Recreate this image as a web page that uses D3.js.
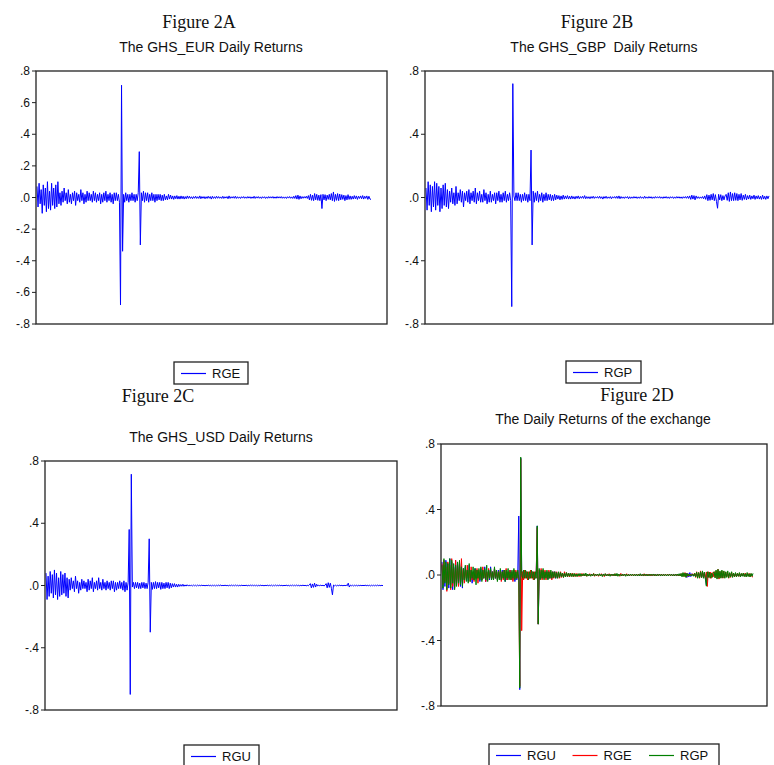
<html>
  <script src="https://d3js.org/d3.v7.min.js"></script>
  <body style="margin:0;background:#fff">
    <script>
      // daily returns (about one value per pixel of the plot)
      let rge = [
        0.07,-0.06,0.09,-0.04,0.05,-0.1,0.08,-0.05,0.06,-0.09,  0.1,-0.07,0.04,-0.08,0.09,-0.05,0.06,-0.07,0.08,-0.06,
        0.1,-0.04,0.03,-0.05,0.04,-0.03,0.06,-0.02,0.03,-0.04,  0.05,-0.03,0.02,-0.04,0.03,-0.02,0.04,-0.05,0.03,-0.02,
        0.02,-0.03,0.05,-0.02,0.03,-0.04,0.02,-0.03,0.04,-0.02,  0.03,-0.02,0.02,-0.03,0.04,-0.02,0.03,-0.03,0.02,-0.02,
        0.03,-0.04,0.02,-0.03,0.03,-0.02,0.04,-0.03,0.02,-0.02,  0.03,-0.03,0.02,-0.04,0.03,-0.02,0.03,-0.02,0.02,-0.03,
        -0.68,0.71,-0.34,0.02,-0.03,0.03,-0.02,0.02,-0.03,0.02,  -0.02,0.03,-0.02,0.02,-0.03,0.02,-0.02,0.03,0.29,-0.30,
        0.03,-0.02,0.04,-0.03,0.03,-0.02,0.03,-0.03,0.02,-0.02,  0.03,-0.02,0.02,-0.03,0.02,-0.02,0.02,-0.015,0.02,-0.02,
        0.015,-0.02,0.02,-0.015,0.01,-0.015,0.02,-0.01,0.015,-0.01,  0.01,-0.012,0.01,-0.008,0.012,-0.01,0.008,-0.01,0.01,-0.008,
        0.008,-0.01,0.006,-0.008,0.01,-0.006,0.008,-0.006,0.005,-0.008,  0.006,-0.005,0.008,-0.006,0.005,-0.006,0.01,-0.008,0.006,-0.005,
        0.006,-0.008,0.005,-0.006,0.008,-0.005,0.006,-0.01,0.008,-0.006,  0.005,-0.006,0.008,-0.005,0.006,-0.005,0.004,-0.006,0.008,-0.006,
        0.005,-0.004,0.006,-0.008,0.01,-0.006,0.005,-0.004,0.006,-0.005,  0.008,-0.006,0.005,-0.005,0.004,-0.006,0.005,-0.004,0.006,-0.005,
        0.004,-0.005,0.006,-0.004,0.005,-0.006,0.004,-0.005,0.008,-0.006,  0.005,-0.004,0.006,-0.005,0.004,-0.006,0.005,-0.004,0.005,-0.006,
        0.004,-0.005,0.006,-0.004,0.005,-0.004,0.006,-0.005,0.004,-0.005,  0.006,-0.004,0.005,-0.004,0.006,-0.005,0.004,-0.005,0.004,-0.006,
        0.005,-0.004,0.006,-0.005,0.004,-0.006,0.008,-0.006,0.012,-0.01,  0.015,-0.012,0.01,-0.008,0.006,-0.005,0.006,-0.004,0.008,-0.006,
        0.012,-0.015,0.02,-0.018,0.015,-0.02,0.025,-0.015,0.02,-0.018,  0.015,-0.02,0.018,-0.07,0.02,-0.015,0.018,-0.02,0.015,-0.012,
        0.02,-0.015,0.025,-0.02,0.035,-0.025,0.02,-0.018,0.025,-0.02,  0.022,-0.015,0.018,-0.012,0.015,-0.02,0.012,-0.015,0.018,-0.012,
        0.01,-0.012,0.008,-0.01,0.012,-0.008,0.01,-0.012,0.008,-0.006,  0.01,-0.008,0.012,-0.01,0.008,-0.006,0.01,-0.012,0.008,-0.01,
        -0.012
      ];
      let rgp = [
        0.06,-0.08,0.1,-0.05,0.08,-0.09,0.07,-0.06,0.1,-0.08,  0.09,-0.05,0.07,-0.09,0.06,-0.07,0.08,-0.05,0.09,-0.06,
        0.05,-0.07,0.04,-0.03,0.06,-0.04,0.03,-0.05,0.07,-0.04,  0.03,-0.02,0.05,-0.03,0.04,-0.06,0.03,-0.02,0.04,-0.03,
        0.05,-0.04,0.03,-0.02,0.04,-0.03,0.06,-0.04,0.03,-0.02,  0.04,-0.03,0.02,-0.03,0.05,-0.02,0.03,-0.04,0.02,-0.03,
        0.04,-0.03,0.02,-0.02,0.03,-0.04,0.03,-0.02,0.04,-0.03,  0.02,-0.03,0.03,-0.02,0.04,-0.03,0.02,-0.02,0.03,-0.02,
        -0.69,0.72,0.01,-0.02,0.03,-0.02,0.03,-0.02,0.02,-0.03,  0.02,-0.02,0.03,-0.02,0.02,-0.03,0.02,-0.02,0.30,-0.30,
        0.04,-0.03,0.03,-0.02,0.04,-0.03,0.02,-0.02,0.03,-0.03,  0.02,-0.02,0.03,-0.02,0.02,-0.015,0.02,-0.02,0.015,-0.02,
        0.02,-0.015,0.015,-0.01,0.012,-0.015,0.01,-0.012,0.015,-0.01,  0.01,-0.008,0.012,-0.01,0.008,-0.01,0.01,-0.008,0.006,-0.01,
        0.008,-0.006,0.01,-0.008,0.006,-0.005,0.008,-0.006,0.012,-0.008,  0.006,-0.006,0.005,-0.008,0.006,-0.005,0.008,-0.006,0.005,-0.004,
        0.006,-0.005,0.008,-0.006,0.005,-0.01,0.006,-0.005,0.008,-0.006,  0.004,-0.005,0.006,-0.008,0.005,-0.004,0.006,-0.005,0.008,-0.006,
        0.01,-0.008,0.006,-0.005,0.004,-0.006,0.005,-0.004,0.006,-0.008,  0.005,-0.006,0.004,-0.005,0.006,-0.004,0.005,-0.006,0.004,-0.005,
        0.006,-0.005,0.004,-0.006,0.008,-0.005,0.004,-0.005,0.006,-0.004,  0.005,-0.006,0.004,-0.005,0.006,-0.004,0.005,-0.004,0.006,-0.005,
        0.004,-0.006,0.005,-0.004,0.006,-0.005,0.004,-0.006,0.005,-0.004,  0.005,-0.006,0.004,-0.005,0.006,-0.004,0.005,-0.005,0.004,-0.006,
        0.005,-0.004,0.006,-0.005,0.008,-0.006,0.01,-0.012,0.015,-0.01,  0.012,-0.015,0.01,-0.006,0.005,-0.006,0.004,-0.005,0.006,-0.008,
        0.01,-0.012,0.018,-0.02,0.015,-0.018,0.02,-0.015,0.025,-0.02,  0.018,-0.025,-0.068,0.02,-0.015,0.018,-0.02,0.012,-0.015,0.01,
        0.02,-0.018,0.03,-0.025,0.035,-0.02,0.025,-0.02,0.03,-0.018,  0.025,-0.02,0.02,-0.015,0.025,-0.018,0.015,-0.012,0.02,-0.015,
        0.012,-0.01,0.015,-0.012,0.01,-0.008,0.015,-0.012,0.01,-0.008,  0.012,-0.01,0.008,-0.012,0.015,-0.01,0.008,-0.012,0.01,-0.008,
        0.01
      ];
      let rgu = [
        0.08,-0.09,0.06,-0.07,0.09,-0.05,0.07,-0.08,0.1,-0.06,  0.08,-0.09,0.05,-0.07,0.09,-0.06,0.07,-0.05,0.08,-0.07,
        0.05,-0.08,0.04,-0.03,0.05,-0.02,0.03,-0.04,0.06,-0.02,  0.03,-0.05,0.02,-0.03,0.04,-0.02,0.03,-0.02,0.02,-0.04,
        0.04,-0.03,0.03,-0.02,0.05,-0.04,0.02,-0.02,0.03,-0.03,  0.05,-0.02,0.02,-0.03,0.04,-0.02,0.02,-0.03,0.03,-0.02,
        0.02,-0.03,0.03,-0.02,0.03,-0.04,0.02,-0.03,0.02,-0.02,  0.03,-0.02,0.02,-0.03,0.03,-0.04,0.02,-0.03,0.02,0.36,
        -0.70,0.715,-0.01,0.02,-0.02,0.02,-0.015,0.02,-0.02,0.015,  -0.02,0.02,-0.015,0.02,-0.02,0.015,-0.02,0.02,0.30,-0.30,
        0.02,-0.025,0.02,-0.02,0.025,-0.02,0.02,-0.015,0.02,-0.025,  0.02,-0.02,0.015,-0.02,0.02,-0.015,0.02,-0.02,0.015,-0.015,
        0.012,-0.01,0.012,-0.01,0.008,-0.01,0.008,-0.006,0.006,-0.005,  0.008,-0.005,0.004,-0.004,0.005,-0.003,0.003,-0.004,0.003,-0.003,
        0.003,-0.002,0.002,-0.003,0.003,-0.002,0.002,-0.002,0.003,-0.002,  0.002,-0.003,0.002,-0.002,0.003,-0.002,0.002,-0.003,0.002,-0.002,
        0.002,-0.003,0.002,-0.002,0.003,-0.002,0.004,-0.003,0.002,-0.002,  0.003,-0.002,0.002,-0.003,0.002,-0.002,0.003,-0.002,0.002,-0.002,
        0.003,-0.002,0.002,-0.003,0.002,-0.002,0.003,-0.002,0.002,-0.002,  0.003,-0.003,0.002,-0.002,0.003,-0.002,0.004,-0.003,0.002,-0.002,
        0.002,-0.003,0.002,-0.002,0.003,-0.002,0.002,-0.003,0.002,-0.002,  0.003,-0.002,0.002,-0.002,0.003,-0.003,0.002,-0.002,0.003,-0.002,
        0.002,-0.002,0.003,-0.002,0.002,-0.003,0.002,-0.002,0.003,-0.002,  0.002,-0.003,0.002,-0.002,0.003,-0.002,0.002,-0.002,0.003,-0.002,
        0.002,-0.003,0.002,-0.002,0.003,-0.002,0.002,-0.003,0.002,-0.002,  0.003,0.012,-0.015,0.01,-0.012,0.015,-0.01,0.008,-0.003,0.002,
        -0.002,0.003,-0.002,0.002,-0.003,0.002,0.012,-0.015,0.018,-0.012,  0.015,-0.018,-0.06,0.003,-0.002,0.002,-0.003,0.002,-0.002,0.003,
        -0.002,0.002,-0.003,0.002,-0.002,0.003,-0.002,0.015,-0.01,0.003,  -0.002,0.002,-0.003,0.002,-0.002,0.002,-0.003,0.002,-0.002,0.002,
        -0.002,0.002,-0.002,0.003,-0.002,0.002,-0.002,0.002,-0.003,0.002,  -0.002,0.002,-0.002,0.002,-0.002,0.003,-0.002,0.002,-0.002,0.002,
        -0.002
      ];

      let ticksFine = [0.8, 0.6, 0.4, 0.2, 0, -0.2, -0.4, -0.6, -0.8];
      let labelsFine = [".8", ".6", ".4", ".2", ".0", "-.2", "-.4", "-.6", "-.8"];
      let ticksCoarse = [0.8, 0.4, 0, -0.4, -0.8];
      let labelsCoarse = [".8", ".4", ".0", "-.4", "-.8"];

      // EViews colours by position in the graph: 1st blue, 2nd red, 3rd green
      let lineColors = ["#0000ff", "#ff0000", "#008000"];
      let seriesData = {RGU: rgu, RGE: rge, RGP: rgp};

      let panels = [
        {fig: "Figure 2A", figX: 199, figY: 28, title: "The GHS_EUR Daily Returns", titleX: 211, titleY: 52,
         box: [36, 71, 387, 324], data: [37, 371], ticks: ticksFine, labels: labelsFine,
         series: ["RGE"], legend: [174, 362, 74]},
        {fig: "Figure 2B", figX: 597, figY: 28, title: "The GHS_GBP  Daily Returns", titleX: 604, titleY: 52,
         box: [425, 71, 773, 324], data: [426, 769], ticks: ticksCoarse, labels: labelsCoarse,
         series: ["RGP"], legend: [566, 361, 75]},
        {fig: "Figure 2C", figX: 158, figY: 402, title: "The GHS_USD Daily Returns", titleX: 221, titleY: 442,
         box: [45, 461, 397, 710], data: [46, 383], ticks: ticksCoarse, labels: labelsCoarse,
         series: ["RGU"], legend: [184, 745, 75]},
        {fig: "Figure 2D", figX: 637, figY: 401, title: "The Daily Returns of the exchange", titleX: 603, titleY: 424,
         box: [441, 444, 767, 706], data: [442, 753], ticks: ticksCoarse, labels: labelsCoarse,
         series: ["RGU", "RGE", "RGP"], legend: [489, 744, 230]}
      ];

      let width = 774;
      let height = 765;
      let svg = d3.select("body").append("svg")
                  .attr("width", width)
                  .attr("height", height)
                  .style("display", "block");

      panels.forEach(p => {
        let [x0, y0, x1, y1] = p.box;
        let g = svg.append("g");

        g.append("text")
         .attr("x", p.figX).attr("y", p.figY)
         .attr("text-anchor", "middle")
         .attr("font-family", "Liberation Serif, Times New Roman, serif")
         .attr("font-size", 18).attr("fill", "#111")
         .text(p.fig);
        g.append("text")
         .attr("x", p.titleX).attr("y", p.titleY)
         .attr("text-anchor", "middle")
         .attr("font-family", "Liberation Sans, Arial, sans-serif")
         .attr("font-size", 14).attr("fill", "#111")
         .style("white-space", "pre")
         .text(p.title);

        let y = d3.scaleLinear().domain([-0.8, 0.8]).range([y1, y0]);

        // ticks on the left axis
        p.ticks.forEach((t, i) => {
          g.append("line")
           .attr("x1", x0 - 4).attr("x2", x0)
           .attr("y1", y(t)).attr("y2", y(t))
           .attr("stroke", "#222");
          g.append("text")
           .attr("x", x0 - 6).attr("y", y(t) + 4)
           .attr("text-anchor", "end")
           .attr("font-family", "Liberation Sans, Arial, sans-serif")
           .attr("font-size", 12).attr("fill", "#111")
           .text(p.labels[i]);
        });

        p.series.forEach((s, k) => {
          let vals = seriesData[s];
          let x = d3.scaleLinear().domain([0, vals.length - 1]).range(p.data);
          let line = d3.line().x((d, i) => x(i)).y(d => y(d));
          g.append("path")
           .attr("d", line(vals))
           .attr("fill", "none")
           .attr("stroke", lineColors[k])
           .attr("stroke-width", 1)
           .attr("stroke-linejoin", "bevel");
        });

        g.append("rect")
         .attr("x", x0).attr("y", y0)
         .attr("width", x1 - x0).attr("height", y1 - y0)
         .attr("fill", "none")
         .attr("stroke", "#222")
         .attr("stroke-width", 1.3);

        // legend
        let [lx, ly, lw] = p.legend;
        g.append("rect")
         .attr("x", lx).attr("y", ly)
         .attr("width", lw).attr("height", 22)
         .attr("fill", "#fff")
         .attr("stroke", "#222")
         .attr("stroke-width", 1.3);
        p.series.forEach((s, k) => {
          let ix = lx + 7 + k * 76.5;
          g.append("line")
           .attr("x1", ix).attr("x2", ix + 25)
           .attr("y1", ly + 11.5).attr("y2", ly + 11.5)
           .attr("stroke", lineColors[k])
           .attr("stroke-width", 1.2);
          g.append("text")
           .attr("x", ix + 31).attr("y", ly + 16)
           .attr("font-family", "Liberation Sans, Arial, sans-serif")
           .attr("font-size", 13).attr("fill", "#111")
           .text(s);
        });
      });
    </script>
  </body>
</html>
